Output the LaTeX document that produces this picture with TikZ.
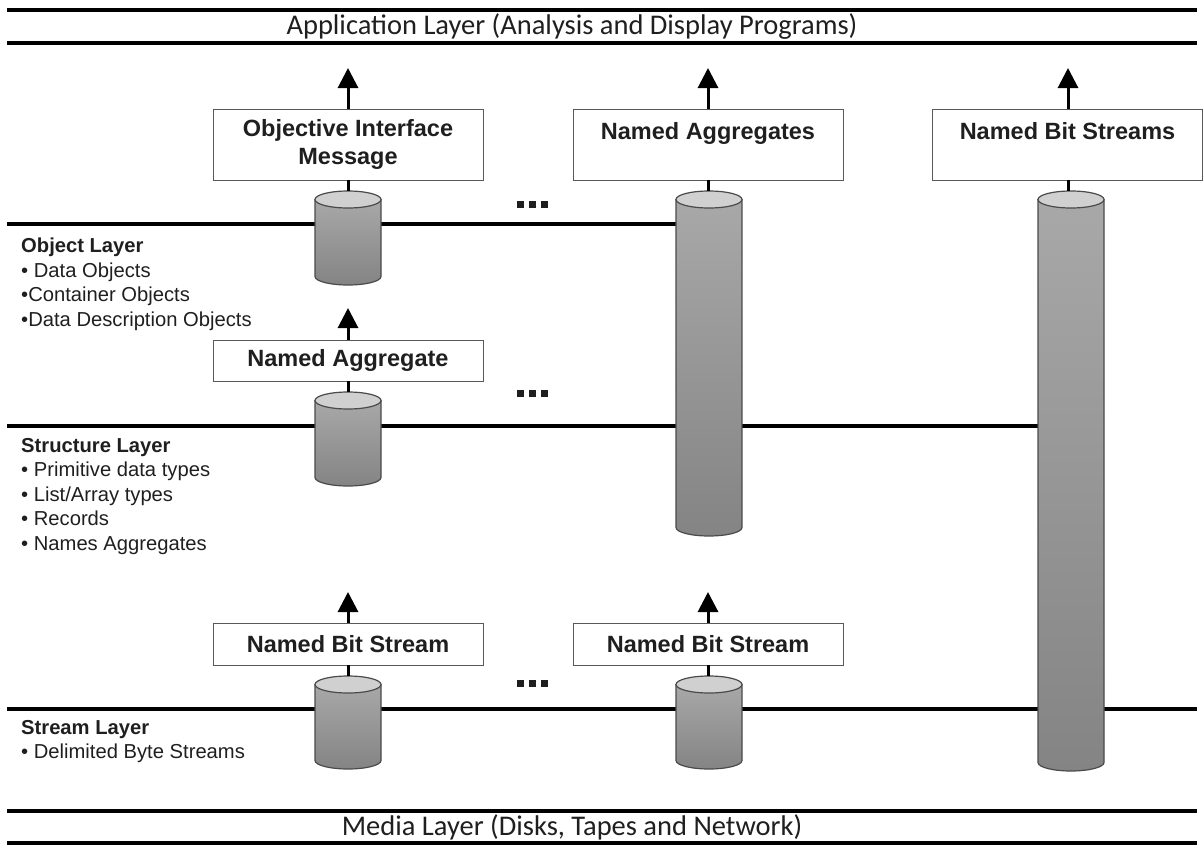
\documentclass[tikz,border=0pt]{standalone}
\usepackage{fontspec}
\setmainfont{Liberation Sans}
\newfontfamily\calib{Carlito}
\usetikzlibrary{arrows.meta,calc}
\pgfdeclarelayer{bg}
\pgfsetlayers{bg,main}
\definecolor{cylTop}{HTML}{A8A8A8}
\definecolor{cylBot}{HTML}{848484}
\definecolor{cylEnd}{HTML}{D0D0D0}
\definecolor{cylLine}{HTML}{4A4A4A}
\definecolor{txt}{HTML}{1F1F1F}
\newcommand\mycyl[4]{%
  \node[inner sep=0pt, outer sep=0pt, minimum width=66pt, minimum height={#4-#3}, anchor=north] (#1) at (#2,#3) {};
  \path[draw=cylLine, line width=1.2pt, top color=cylTop, bottom color=cylBot]
    (#2-33,#3+8.5) -- (#2-33,#4-8.5) arc[start angle=180,end angle=0,x radius=33,y radius=8.5] -- (#2+33,#3+8.5) -- cycle;
  \draw[cylLine, line width=1.2pt, fill=cylEnd] (#2,#3+8.5) ellipse[x radius=33, y radius=8.5];
}
\begin{document}
\begin{tikzpicture}[x=1pt,y=-1pt,
  box/.style={draw=black!65, line width=0.8pt, fill=white, minimum width=270pt, inner sep=0pt, font=\bfseries\fontsize{23.5}{28}\selectfont, text=txt, align=center},
  arr/.style={line width=3pt, -{Triangle[width=20pt,length=20pt]}},
  conn/.style={line width=3pt},
  layer/.style={line width=3.5pt},
  tline/.style={line width=4pt},
  ttl/.style={font=\calib\fontsize{28.5}{32}\selectfont, text=txt, inner sep=0pt},
  lbl/.style={anchor=north west, inner sep=0pt, align=left, font=\fontsize{20.2}{24.5}\selectfont, text=txt}]
\useasboundingbox (0,0) rectangle (1203,846);
% title bars
\coordinate (t1a) at (7,10); \coordinate (t1b) at (1197,10);
\coordinate (t2a) at (7,43); \coordinate (t2b) at (1197,43);
\coordinate (b1a) at (7,811); \coordinate (b1b) at (1197,811);
\coordinate (b2a) at (7,843); \coordinate (b2b) at (1197,843);
\draw[tline] (t1a) -- (t1b);
\draw[tline] (t2a) -- (t2b);
\draw[tline] (b1a) -- (b1b);
\draw[tline] (b2a) -- (b2b);
\node[ttl] (app) at (572,27) {Application Layer (Analysis and Display Programs)};
\node[ttl] (media) at (572,827) {Media Layer (Disks, Tapes and Network)};
% layer labels
\node[lbl] (objl) at (21,238) {\textbf{Object Layer}\\• Data Objects\\•Container Objects\\•Data Description Objects};
\node[lbl] (strl) at (21,438) {\textbf{Structure Layer}\\• Primitive data types\\• List/Array types\\• Records\\• Names Aggregates};
\node[lbl] (stml) at (21,720) {\textbf{Stream Layer}\\• Delimited Byte Streams};
% boxes
\node[box, minimum height=71pt] (bOIM) at (348,144.5) {Objective Interface\\Message};
\node[box, minimum height=71pt] (bNAgs) at (708,144.5) {Named Aggregates\\\mbox{}};
\node[box, minimum height=71pt] (bNBSs) at (1067.5,144.5) {Named Bit Streams\\\mbox{}};
\node[box, minimum height=41pt] (bNAg) at (348,360.5) {Named Aggregate};
\node[box, minimum height=42pt] (bNBS1) at (348,644) {Named Bit Stream};
\node[box, minimum height=42pt] (bNBS2) at (708,644) {Named Bit Stream};
% arrow tips
\coordinate (a1) at (348,68);
\coordinate (a2) at (708,68);
\coordinate (a3) at (1068,68);
\coordinate (a4) at (348,308);
\coordinate (a5) at (348,592);
\coordinate (a6) at (708,592);
\draw[arr] (bOIM.north) -- (a1);
\draw[arr] (bNAgs.north) -- (a2);
\draw[arr] (bNBSs.north -| a3) -- (a3);
\draw[arr] (bNAg.north) -- (a4);
\draw[arr] (bNBS1.north) -- (a5);
\draw[arr] (bNBS2.north) -- (a6);
% cylinders
\mycyl{cNAg}{709}{191}{536}
\mycyl{cNBS}{1071}{191}{771}
\mycyl{cObj}{348}{191}{285}
\mycyl{cStr}{348}{392}{486}
\mycyl{cSt1}{348}{676}{769}
\mycyl{cSt2}{709}{676}{769}
% layer lines (behind cylinders)
\coordinate (lo) at (7,224);
\coordinate (ls) at (7,426);
\coordinate (lm) at (7,709);
\coordinate (lmEnd) at (1197,709);
\begin{pgfonlayer}{bg}
\draw[layer] (lo) -- (lo -| cNAg.west);
\draw[layer] (ls) -- (ls -| cNBS.west);
\draw[layer] (lm) -- (lmEnd);
\end{pgfonlayer}
% connectors box -> cylinder
\draw[conn] (bOIM.south) -- (bOIM.south |- cObj.north);
\draw[conn] (bNAgs.south) -- (bNAgs.south |- cNAg.north);
\draw[conn] (bNBSs.south -| a3) -- (a3 |- cNBS.north);
\draw[conn] (bNAg.south) -- (bNAg.south |- cStr.north);
\draw[conn] (bNBS1.south) -- (bNBS1.south |- cSt1.north);
\draw[conn] (bNBS2.south) -- (bNBS2.south |- cSt2.north);
% ellipsis dots
\foreach \yy in {201,390,680}{
  \foreach \xx in {517,529,541}{
    \fill[txt] (\xx,\yy) rectangle ++(7,7);
  }
}
\end{tikzpicture}
\end{document}
